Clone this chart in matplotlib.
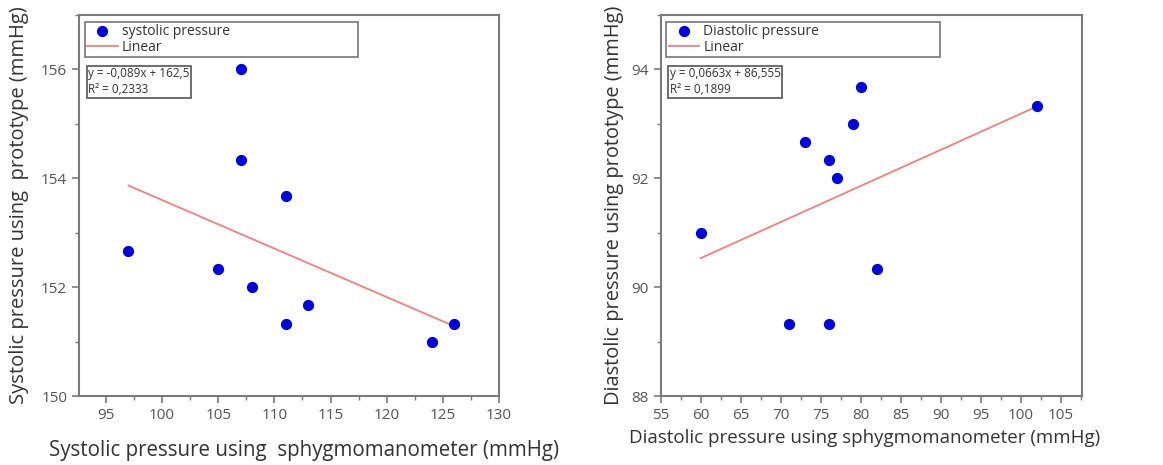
import numpy as np
import matplotlib
matplotlib.use("Agg")
import matplotlib.pyplot as plt
from matplotlib.ticker import MultipleLocator

plt.rcParams['font.family'] = ['Open Sans', 'DejaVu Sans']

# -------- DATA --------
sys_ref = [97, 105, 107, 107, 108, 111, 111, 113, 124, 126]
sys_proto = [152.67, 152.33, 156.0, 154.33, 152.0, 153.67, 151.33, 151.67, 151.0, 151.33]
sys_slope, sys_icpt = -0.089, 162.5
sys_eq = "y = -0,089x + 162,5\nR² = 0,2333"

dia_ref = [60, 71, 73, 76, 76, 77, 79, 80, 82, 102]
dia_proto = [91.0, 89.33, 92.67, 92.33, 89.33, 92.0, 93.0, 93.67, 90.33, 93.33]
dia_slope, dia_icpt = 0.0663, 86.555
dia_eq = "y = 0,0663x + 86,555\nR² = 0,1899"

frame_col = "#7a7a7a"
tick_col = "#555555"
label_col = "#333333"


def draw(ax, x, y, slope, icpt, eq, name, xlim, ylim, xmaj, ymaj):
    ax.scatter(x, y, s=50, color="#0000dd", zorder=3, label=name)
    xs = np.array([min(x), max(x)])
    ax.plot(xs, slope * xs + icpt, color="#f08080", lw=1.3, label="Linear")
    ax.set_xlim(*xlim)
    ax.set_ylim(*ylim)
    ax.xaxis.set_major_locator(MultipleLocator(xmaj))
    ax.xaxis.set_minor_locator(MultipleLocator(xmaj / 2))
    ax.yaxis.set_major_locator(MultipleLocator(ymaj))
    ax.yaxis.set_minor_locator(MultipleLocator(ymaj / 2))
    ax.tick_params(which="both", direction="out", colors=frame_col,
                   labelcolor=tick_col, labelsize=11)
    ax.tick_params(which="major", length=5, width=1.2)
    ax.tick_params(which="minor", length=3, width=1)
    for sp in ax.spines.values():
        sp.set_color(frame_col)
        sp.set_linewidth(1.5)

    # legend box spanning most of the top of the plot
    leg = ax.legend(loc="upper left", bbox_to_anchor=(0.014, 0.888, 0.65, 0.094),
                    mode="expand", fontsize=10, frameon=True, fancybox=False,
                    borderpad=0.15, labelspacing=0.05, handlelength=2.2,
                    handletextpad=0.3, borderaxespad=0)
    leg.get_frame().set_edgecolor("#555555")
    leg.get_frame().set_linewidth(1.2)
    for t in leg.get_texts():
        t.set_color("#333333")

    # fit equation box
    ax.text(0.022, 0.862, eq, transform=ax.transAxes, fontsize=8.5, va="top",
            ha="left", color="#333333", linespacing=1.3,
            bbox=dict(boxstyle="square,pad=0.15", fc="white", ec="#555555", lw=1.2))


fig = plt.figure(figsize=(11.63, 4.65), dpi=100)

ax1 = fig.add_axes([0.068, 0.148, 0.361, 0.820])
draw(ax1, sys_ref, sys_proto, sys_slope, sys_icpt, sys_eq, "systolic pressure",
     (92.6, 130), (150, 157), 5, 2)
ax1.set_xlabel("Systolic pressure using  sphygmomanometer (mmHg)",
               fontsize=14.8, color=label_col)
ax1.xaxis.set_label_coords(0.535, -0.115)
ax1.set_ylabel("Systolic pressure using  prototype (mmHg)",
               fontsize=14.5, color=label_col, labelpad=9)

ax2 = fig.add_axes([0.568, 0.148, 0.362, 0.820])
draw(ax2, dia_ref, dia_proto, dia_slope, dia_icpt, dia_eq, "Diastolic pressure",
     (55, 107.6), (88, 95), 5, 2)
ax2.set_xlabel("Diastolic pressure using sphygmomanometer (mmHg)",
               fontsize=13.5, color=label_col)
ax2.xaxis.set_label_coords(0.485, -0.085)
ax2.set_ylabel("Diastolic pressure using prototype (mmHg)",
               fontsize=14.4, color=label_col, labelpad=5)

fig.savefig("out.png", dpi=100)
